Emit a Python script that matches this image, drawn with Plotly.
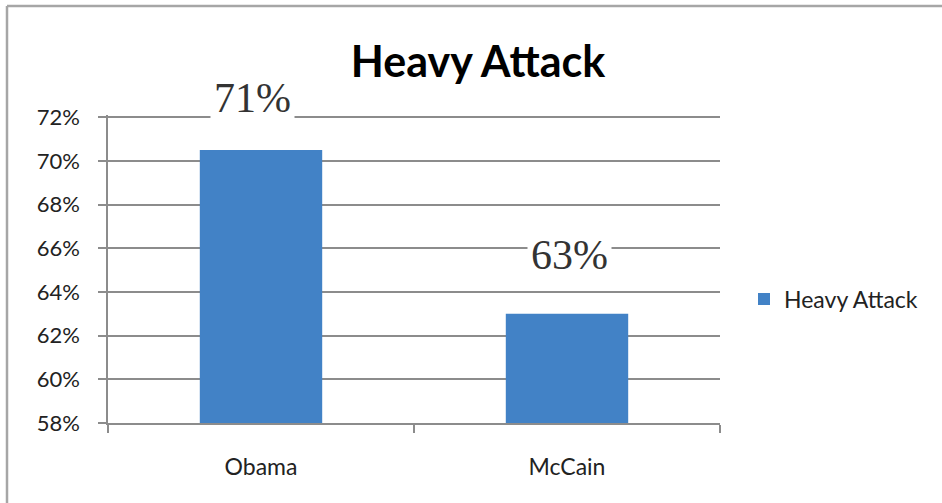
import plotly.graph_objects as go

categories = ["Obama", "McCain"]
values = [70.5, 63.0]
label_offsets = [2.4, 2.7]
series_name = "Heavy Attack"
y_ticks = [58, 60, 62, 64, 66, 68, 70, 72]
y_tick_labels = [f"{t}%" for t in y_ticks]
y_range = [58, 72.1]

W, H = 942, 503
L, R, T, B = 108, 222, 115, 80

fig = go.Figure()
fig.add_trace(go.Bar(
    x=categories, y=values, name=series_name,
    marker=dict(color="#4282c6", line=dict(width=0)),
    width=0.4,
))

for i, (c, v, off) in enumerate(zip(categories, values, label_offsets)):
    fig.add_annotation(
        x=c, y=(v + off - y_range[0]) / (y_range[1] - y_range[0]),
        xref="x", yref="paper", yanchor="middle", xanchor="center",
        text=f"{round(v + 0.01)}%", showarrow=False,
        font=dict(family="Liberation Serif", size=42, color="#333333"),
        bgcolor="white", borderpad=3,
        xshift=-9 if i == 0 else 2,
    )

pw = W - L - R
ph = H - T - B
x0 = (7 - L) / pw
y1 = (H - B - 6) / ph
fig.add_shape(type="line", xref="paper", yref="paper",
              x0=x0, x1=x0, y0=-2, y1=y1,
              line=dict(color="#a6a6a6", width=2.5))
fig.add_shape(type="line", xref="paper", yref="paper",
              x0=x0, x1=3, y0=y1, y1=y1,
              line=dict(color="#a6a6a6", width=2.5))

fig.update_layout(
    width=W, height=H,
    margin=dict(l=L, r=R, t=T, b=B),
    paper_bgcolor="white", plot_bgcolor="white",
    title=dict(text="<b>Heavy Attack</b>", x=478 / W, xanchor="center",
               y=1 - 62 / H, yanchor="middle", yref="container",
               font=dict(family="Lato", size=43, color="black")),
    font=dict(family="Lato", size=20, color="#222222"),
    showlegend=True,
    legend=dict(x=(744 - L) / pw, y=(H - B - 299) / ph, yanchor="middle",
                xanchor="left", font=dict(size=23, color="#222222"),
                bgcolor="rgba(0,0,0,0)", itemwidth=30),
    bargap=0.6,
)
fig.update_yaxes(
    range=y_range, tickvals=y_ticks, ticktext=y_tick_labels,
    showgrid=True, gridcolor="#8c8c8c", gridwidth=1.5,
    showline=True, linecolor="#8c8c8c", linewidth=1.5,
    ticks="outside", ticklen=8, tickcolor="#8c8c8c", tickwidth=1.5,
    zeroline=False, tickfont=dict(size=22), ticklabelstandoff=14,
)
fig.update_xaxes(
    showline=True, linecolor="#8c8c8c", linewidth=1.5,
    ticks="outside", ticklen=8, tickcolor="#8c8c8c", tickwidth=1.5,
    tickson="boundaries", showgrid=False, ticklabelstandoff=23,
    tickfont=dict(size=23),
)

fig.write_html(
    "out.html",
    config={"displayModeBar": False},
    post_script="document.body.style.margin='0px';document.body.style.overflow='hidden';",
)
